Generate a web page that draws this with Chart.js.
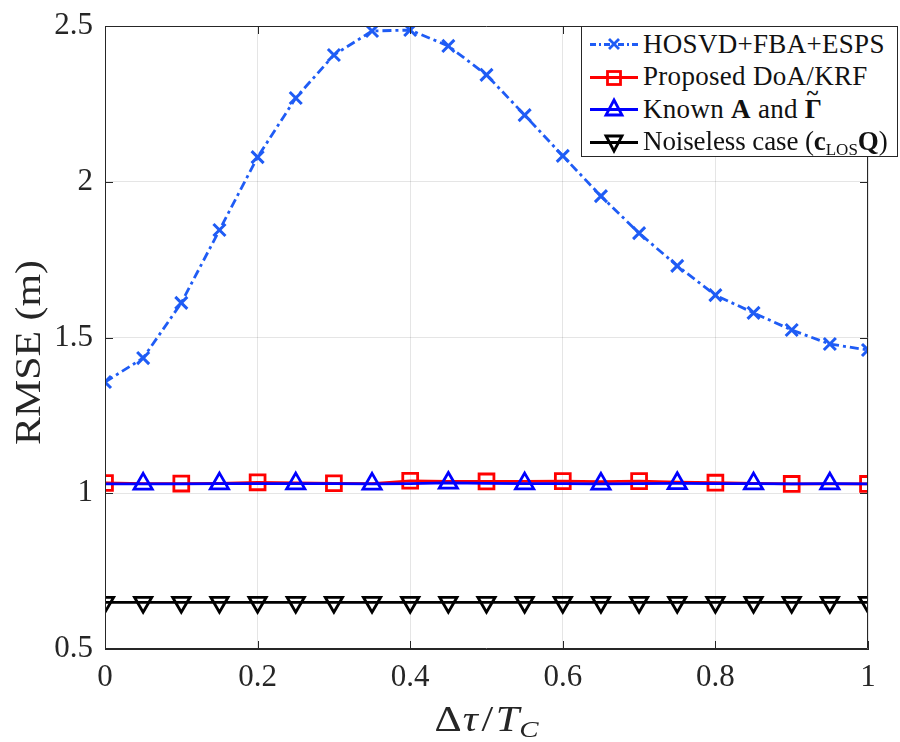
<!DOCTYPE html>
<html>
<head>
<meta charset="utf-8">
<script src="https://cdn.jsdelivr.net/npm/chart.js@4.4.1/dist/chart.umd.min.js"></script>
<style>
  html, body { margin: 0; padding: 0; background: #fff; }
  #wrap { position: relative; width: 900px; height: 742px; }
  #legend {
    position: absolute; left: 581px; top: 26px; width: 317px; height: 131px;
    border: 1px solid #262626; background: #fff; box-sizing: border-box;
    font-family: 'Liberation Serif', serif; font-size: 27px; color: #111;
    letter-spacing: 0.3px; padding-top: 1px; white-space: nowrap;
  }
  .row { height: 32.5px; display: flex; align-items: center; }
  .row svg { margin-left: 8px; margin-right: 5px; flex: none; }
  .tight { letter-spacing: -0.1px; }
  sub { font-size: 17px; vertical-align: -5px; line-height: 0; letter-spacing: 0; }
  .tl { position: relative; display: inline-block; }
  .tl i { position: absolute; left: 2px; top: -14px; font-style: normal; font-weight: bold; font-size: 22px; }
</style>
</head>
<body>
<div id="wrap">
  <canvas id="c" width="900" height="742"></canvas>
  <div id="legend"></div>
</div>
<script>
// ---------- data ----------
const xValues = [0, 0.05, 0.1, 0.15, 0.2, 0.25, 0.3, 0.35, 0.4, 0.45, 0.5, 0.55, 0.6, 0.65, 0.7, 0.75, 0.8, 0.85, 0.9, 0.95, 1];
const hosvdFbaEsps = [1.357, 1.434, 1.611, 1.845, 2.079, 2.269, 2.407, 2.484, 2.487, 2.436, 2.343, 2.214, 2.083, 1.954, 1.835, 1.730, 1.636, 1.579, 1.524, 1.479, 1.460];
const proposedDoaKrf = [1.033, 1.031, 1.031, 1.032, 1.035, 1.033, 1.032, 1.031, 1.040, 1.038, 1.038, 1.038, 1.039, 1.037, 1.039, 1.036, 1.034, 1.032, 1.030, 1.030, 1.030];
const knownAGamma = [1.030, 1.030, 1.030, 1.031, 1.031, 1.031, 1.031, 1.030, 1.031, 1.033, 1.032, 1.031, 1.031, 1.030, 1.031, 1.032, 1.031, 1.031, 1.030, 1.031, 1.030];
const noiselessCase = [0.65, 0.65, 0.65, 0.65, 0.65, 0.65, 0.65, 0.65, 0.65, 0.65, 0.65, 0.65, 0.65, 0.65, 0.65, 0.65, 0.65, 0.65, 0.65, 0.65, 0.65];
const xTickValues = [0, 0.2, 0.4, 0.6, 0.8, 1];
const xTickLabels = ['0', '0.2', '0.4', '0.6', '0.8', '1'];
const yTickValues = [0.5, 1, 1.5, 2, 2.5];
const yTickLabels = ['0.5', '1', '1.5', '2', '2.5'];
const seriesNames = ['HOSVD+FBA+ESPS', 'Proposed DoA/KRF', 'Known A and Γ̃', 'Noiseless case (c_LOS Q)'];

// ---------- styles ----------
const C_HOSVD = '#1f5cf5';
const C_PROP = '#ff0000';
const C_KNOWN = '#0000ff';
const C_NOISE = '#000000';
const AX = '#262626';
const FONT = "'Liberation Serif', 'Times New Roman', serif";

const pts = arr => xValues.map((x, i) => ({ x: x, y: arr[i] }));

const boxTicks = {
  id: 'boxTicks',
  afterDatasetsDraw(chart) {
    const { ctx, chartArea: a, scales } = chart;
    ctx.save();
    ctx.strokeStyle = AX;
    ctx.lineWidth = 1;
    ctx.beginPath();
    ctx.rect(a.left + 0.5, a.top + 0.5, a.right - a.left - 1, a.bottom - a.top - 1);
    const L = 8;
    scales.x.ticks.forEach(t => {
      const px = Math.round(scales.x.getPixelForValue(t.value)) + 0.5;
      ctx.moveTo(px, a.bottom); ctx.lineTo(px, a.bottom - L);
      ctx.moveTo(px, a.top); ctx.lineTo(px, a.top + L);
    });
    scales.y.ticks.forEach(t => {
      const py = Math.round(scales.y.getPixelForValue(t.value)) + 0.5;
      ctx.moveTo(a.left, py); ctx.lineTo(a.left + L, py);
      ctx.moveTo(a.right, py); ctx.lineTo(a.right - L, py);
    });
    ctx.stroke();
    ctx.restore();
  },
  afterDraw(chart) {
    const { ctx, chartArea: a } = chart;
    // y title, stretched horizontally to mimic the wider LaTeX font
    ctx.save();
    ctx.fillStyle = AX;
    ctx.font = '35px ' + FONT;
    const yt = 'RMSE (m)';
    const yw = ctx.measureText(yt).width;
    ctx.translate(31, (a.top + a.bottom) / 2 + 15);
    ctx.rotate(-Math.PI / 2);
    ctx.scale(185 / yw, 1);
    ctx.textAlign = 'center';
    ctx.textBaseline = 'middle';
    ctx.fillText(yt, 0, 0);
    ctx.restore();
    // x title: Δτ/T_C
    ctx.save();
    ctx.fillStyle = AX;
    ctx.textBaseline = 'alphabetic';
    const parts = [
      { t: 'Δ', f: '35px ' + FONT, dy: 0, g: 1 },
      { t: 'τ', f: 'italic 35px ' + FONT, dy: 0, g: 3 },
      { t: '/', f: '35px ' + FONT, dy: 0, g: 2 },
      { t: 'T', f: 'italic 35px ' + FONT, dy: 0, g: 0 },
      { t: 'C', f: 'italic 24px ' + FONT, dy: 6, g: 0 }
    ];
    let total = 0;
    parts.forEach(p => { ctx.font = p.f; p.w = ctx.measureText(p.t).width + p.g; total += p.w; });
    const sx = 104 / total;
    let x = (a.left + a.right) / 2 - 104 / 2;
    const base = 731;
    parts.forEach(p => {
      ctx.save();
      ctx.font = p.f;
      ctx.translate(x, base + p.dy);
      ctx.scale(sx, 1);
      ctx.fillText(p.t, 0, 0);
      ctx.restore();
      x += p.w * sx;
    });
    ctx.restore();
  }
};

new Chart(document.getElementById('c'), {
  type: 'line',
  data: {
    datasets: [
      {
        label: seriesNames[0], data: pts(hosvdFbaEsps), order: 10,
        borderColor: C_HOSVD, borderWidth: 2.8, borderDash: [9, 4, 3, 4],
        pointStyle: 'crossRot', pointRadius: 8.5, pointBorderWidth: 3,
        pointBorderColor: C_HOSVD, pointBackgroundColor: 'rgba(0,0,0,0)'
      },
      {
        label: seriesNames[1], data: pts(proposedDoaKrf), order: 9,
        borderColor: C_PROP, borderWidth: 2.8,
        pointStyle: 'rect', pointRadius: c => (c.dataIndex % 2 === 0 ? 10.5 : 0), pointBorderWidth: 2.8,
        pointBorderColor: C_PROP, pointBackgroundColor: 'rgba(0,0,0,0)'
      },
      {
        label: seriesNames[2], data: pts(knownAGamma), order: 8,
        borderColor: C_KNOWN, borderWidth: 2.8,
        pointStyle: 'triangle', pointRadius: c => (c.dataIndex % 2 === 1 ? 10.5 : 0), pointBorderWidth: 2.8,
        pointBorderColor: C_KNOWN, pointBackgroundColor: 'rgba(0,0,0,0)'
      },
      {
        label: seriesNames[3], data: pts(noiselessCase), order: 7,
        borderColor: C_NOISE, borderWidth: 2.8,
        pointStyle: 'triangle', pointRotation: 180, pointRadius: 10, pointBorderWidth: 2.8,
        pointBorderColor: C_NOISE, pointBackgroundColor: 'rgba(0,0,0,0)'
      }
    ]
  },
  options: {
    responsive: false,
    animation: false,
    devicePixelRatio: 1,
    layout: { padding: { left: 0, right: 32, top: 26, bottom: 0 } },
    plugins: { legend: { display: false }, tooltip: { enabled: false } },
    elements: { line: { tension: 0 } },
    scales: {
      x: {
        type: 'linear', min: 0, max: 1,
        afterBuildTicks: s => { s.ticks = xTickValues.map(v => ({ value: v })); },
        afterFit: s => { s.height = 93; s.paddingLeft = 0; s.paddingRight = 0; },
        ticks: { callback: (v, i) => xTickLabels[i], font: { family: FONT, size: 31 }, color: AX, padding: 10, maxRotation: 0 },
        grid: { color: 'rgba(38,38,38,0.12)', drawTicks: false, lineWidth: 1 },
        border: { display: true, color: AX }
      },
      y: {
        type: 'linear', min: 0.5, max: 2.5,
        afterBuildTicks: s => { s.ticks = yTickValues.map(v => ({ value: v })); },
        afterFit: s => { s.width = 105; s.paddingTop = 0; s.paddingBottom = 0; },
        ticks: { callback: (v, i) => yTickLabels[i], font: { family: FONT, size: 31 }, color: AX, padding: 12 },
        grid: { color: 'rgba(38,38,38,0.12)', drawTicks: false, lineWidth: 1 },
        border: { display: true, color: AX }
      }
    }
  },
  plugins: [boxTicks]
});

// ---------- legend (HTML) ----------
const legendItems = [
  { color: C_HOSVD, dash: '6 3 2 3', marker: 'x', html: 'HOSVD+FBA+ESPS' },
  { color: C_PROP, dash: '', marker: 'rect', html: 'Proposed DoA/KRF' },
  { color: C_KNOWN, dash: '', marker: 'tri', html: 'Known <b>A</b> and <b class="tl">Γ<i>~</i></b>' },
  { color: C_NOISE, dash: '', marker: 'tridown', html: '<span class="tight">Noiseless case (<b>c</b><sub>LOS</sub><b>Q</b>)</span>' }
];
const lg = document.getElementById('legend');
legendItems.forEach(it => {
  let m = '';
  const s = `stroke="${it.color}" stroke-width="2.8" fill="none"`;
  if (it.marker === 'x') m = `<path d="M19 7 L29 17 M29 7 L19 17" ${s}/>`;
  if (it.marker === 'rect') m = `<rect x="17.5" y="6.5" width="13" height="13" ${s}/>`;
  if (it.marker === 'tri') m = `<polygon points="24,3 32,18 16,18" ${s}/>`;
  if (it.marker === 'tridown') m = `<polygon points="24,21 32,6 16,6" ${s}/>`;
  const dash = it.dash ? `stroke-dasharray="${it.dash}"` : '';
  lg.insertAdjacentHTML('beforeend',
    `<div class="row"><svg width="48" height="24" viewBox="0 0 48 24"><line x1="0" y1="12.5" x2="48" y2="12.5" stroke="${it.color}" stroke-width="2.8" ${dash}/>${m}</svg><span>${it.html}</span></div>`);
});
</script>
</body>
</html>
